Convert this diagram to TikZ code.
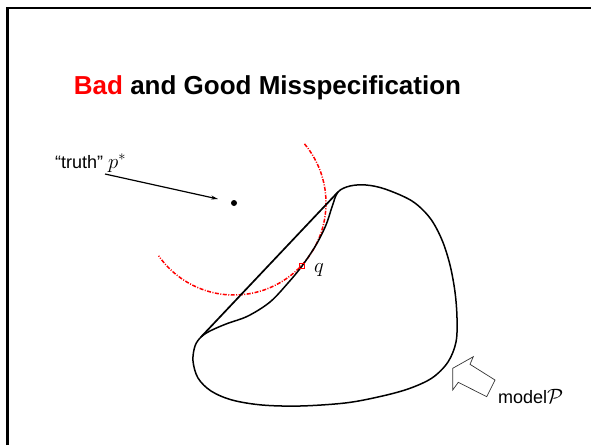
\documentclass[tikz,border=0pt]{standalone}
\usepackage{fontspec}
\setmainfont{Liberation Sans}
\usetikzlibrary{arrows.meta}
\newcommand{\bigmath}[1]{{\fontsize{22}{26}\selectfont$#1$}}
\tikzset{
  lbl/.style={anchor=base west, inner sep=0pt, font=\fontsize{18}{22}\selectfont},
  redcirc/.style={red, line width=1.5pt, dash pattern=on 4pt off 1.5pt on 1pt off 1.5pt},
  modelcurve/.style={line width=1.5pt, line join=round},
}
\begin{document}
\begin{tikzpicture}[x=1pt,y=-1pt]
\useasboundingbox (0,0) rectangle (591,445);
% frame
\draw[line width=2.6pt] (7.7,445) -- (7.7,8) -- (591,8);
% title
\node[anchor=base, inner sep=0pt, font=\fontsize{26}{30}\selectfont\bfseries] (title) at (267.5,94) {\textcolor{red}{Bad} and Good Misspecification};
% truth label and arrow
\node[lbl] (truth) at (55,168) {“truth” \bigmath{p^*}};
\node[circle, fill, inner sep=0pt, minimum size=6pt] (pstar) at (234,203) {};
\coordinate (astart) at (105,174);
\coordinate (aend) at (218,199);
\draw[line width=1.2pt, -{Stealth[length=7pt,width=4pt]}] (astart) -- (aend);
% red circle arc around p*
\draw[redcirc] (pstar.center) ++(-40:92) arc[start angle=-40, end angle=145, radius=92];
% model curve
\draw[modelcurve] plot[smooth cycle, tension=0.55] coordinates {
 (338,192) (350,186) (366,185) (385,189) (412,201) (430,218) (442,240) (450,265)
 (455,292) (457,318) (456,342) (448,362) (432,378) (408,389) (378,397) (345,403)
 (300,406) (262,405) (232,400) (211,391) (198,378) (193,361) (195,346) (201,337)
 (210,331) (226,324) (248,316) (270,302) (288,283) (302,266) (316,245) (326,225) (332,207)};
% chord
\coordinate (c1) at (201,337);
\coordinate (c2) at (338,192);
\draw[line width=1.7pt] (c1) -- (c2);
% q
\node[draw=red, line width=0.9pt, inner sep=0pt, minimum size=4.5pt] (q) at (302,266) {};
\node[lbl] (qlabel) at (314,272) {\bigmath{q}};
% hollow arrow
\draw[line width=0.7pt, draw=black!80, line join=miter] (452.7,368.3) -- (473.3,356.7) -- (470,364.3) -- (495,380) -- (486.7,396.7) -- (458.3,382.3) -- (452.7,390) -- cycle;
\node[lbl] (model) at (498,403) {model\bigmath{\mathcal{P}}};
\end{tikzpicture}
\end{document}
